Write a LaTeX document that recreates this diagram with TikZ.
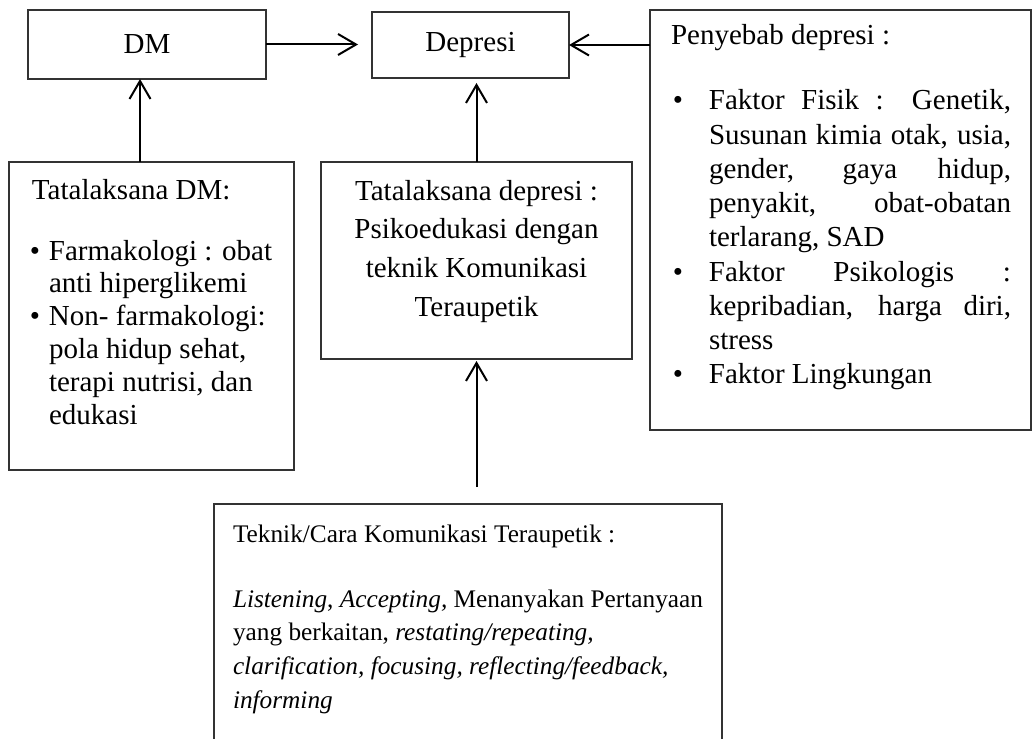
\documentclass[tikz,border=0pt]{standalone}
\usepackage{fontspec}
\setmainfont{Liberation Serif}
\usetikzlibrary{arrows.meta}
\tikzset{
  box/.style={draw=black!80, line width=0.65pt, inner sep=0pt, outer sep=0pt, anchor=north west},
  arr/.style={line width=1pt, -{Straight Barb[length=9pt,width=10.5pt,line width=1pt]}},
  txt/.style={inner sep=0pt, outer sep=0pt, anchor=base west, align=left},
  main/.style={font=\fontsize{14.5}{17}\selectfont},
  small/.style={font=\fontsize{12.65}{16.85}\selectfont}
}
\begin{document}
\begin{tikzpicture}[x=0.5pt, y=-0.5pt, main]
\useasboundingbox (0,0) rectangle (1032,738);
\clip (0,0) rectangle (1032,738);
% boxes
\node[box, minimum width=119pt, minimum height=34.5pt] (dm) at (28,10) {DM};
\node[box, minimum width=98.5pt, minimum height=33pt] (dep) at (372,12) {Depresi};
\node[box, minimum width=190.5pt, minimum height=210pt] (pen) at (650,10) {};
\node[box, minimum width=142.5pt, minimum height=154pt] (tdm) at (9,162) {};
\node[box, minimum width=155.5pt, minimum height=98.5pt] (tdep) at (321,162) {};
\node[box, minimum width=254pt, minimum height=140pt] (tek) at (214,504) {};
% texts: Penyebab
\node[txt] (pentitle) at (671,45) {Penyebab depresi :};
\node[txt] (penlist) at (709,110) {\parbox[t]{151pt}{\baselineskip=17.1pt
\hbox to 151pt{\llap{\textbullet\hspace{13pt}}Faktor Fisik : Genetik,}
\hbox to 151pt{Susunan kimia otak, usia,}
\hbox to 151pt{gender, gaya hidup,}
\hbox to 151pt{penyakit, obat-obatan}
\hbox{terlarang, SAD}
\hbox to 151pt{\llap{\textbullet\hspace{13pt}}Faktor Psikologis :}
\hbox to 151pt{kepribadian, harga diri,}
\hbox{stress}
\hbox{\llap{\textbullet\hspace{13pt}}Faktor Lingkungan}}};
% texts: Tatalaksana DM
\node[txt] (tdmtitle) at (32,199) {Tatalaksana DM:};
\node[txt] (tdmlist) at (49,260) {\parbox[t]{130pt}{\baselineskip=16.4pt
\hbox{\llap{\textbullet\hspace{4.5pt}}Farmakologi : obat}
\hbox{anti hiperglikemi}
\hbox{\llap{\textbullet\hspace{4.5pt}}Non- farmakologi:}
\hbox{pola hidup sehat,}
\hbox{terapi nutrisi, dan}
\hbox{edukasi}}};
% texts: Tatalaksana depresi
\node[inner sep=0pt, outer sep=0pt, anchor=base] (tdeptext) at (476.5,200) {\parbox[t]{150pt}{\centering\baselineskip=19.35pt
Tatalaksana depresi :\\ Psikoedukasi dengan\\ teknik Komunikasi\\ Teraupetik}};
% texts: Teknik
\node[txt, small] (tektitle) at (233,542) {Teknik/Cara Komunikasi Teraupetik :};
\node[txt, small] (teklist) at (233,607) {\parbox[t]{250pt}{\baselineskip=16.85pt
\hbox{\textit{Listening}, \textit{Accepting,} Menanyakan Pertanyaan}
\hbox{yang berkaitan, \textit{restating/repeating,}}
\hbox{\textit{clarification, focusing, reflecting/feedback,}}
\hbox{\textit{informing}}}};
% connectors
\draw[arr, shorten >=7pt] (dm.east) -- (dm.east -| dep.west);
\draw[arr] (pen.north west |- dep.east) -- (dep.east);
\coordinate (tdmtop) at (140,162);
\draw[arr] (tdmtop) -- (tdmtop |- dm.south);
\draw[arr, shorten >=2.5pt] (tdep.north) -- (tdep.north |- dep.south);
\coordinate (tekarrow) at (476.5,487);
\draw[arr, shorten >=1pt] (tekarrow) -- (tdep.south);
\end{tikzpicture}
\end{document}
